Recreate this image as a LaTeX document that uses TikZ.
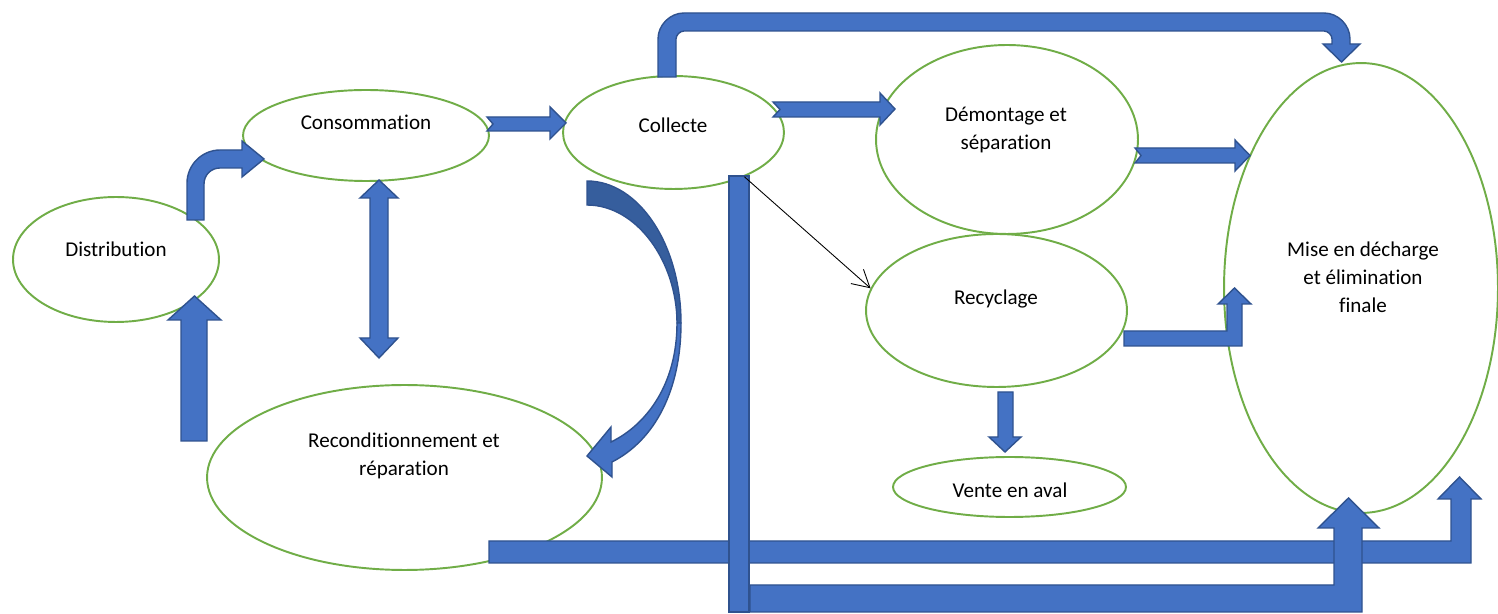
\documentclass[tikz,border=0pt]{standalone}
\usepackage{fontspec}
\setmainfont{Carlito}[Ligatures=NoCommon]
\usetikzlibrary{shapes.geometric,arrows.meta}
\definecolor{vertbord}{HTML}{70AD47}
\definecolor{bleufond}{HTML}{4472C4}
\definecolor{bleutrait}{HTML}{2F528F}
\definecolor{bleusombre}{HTML}{365E9D}
\begin{document}
\begin{tikzpicture}[x=0.02cm,y=-0.02cm,
        etape/.style={draw=vertbord, line width=1.1pt, ellipse, fill=white, inner sep=0pt},
        texte/.style={font=\fontsize{12}{16.2}\selectfont, align=center, anchor=base, inner sep=0pt},
        fleche/.style={draw=bleutrait, fill=bleufond, line width=0.8pt, line join=miter}]
        \useasboundingbox (0,0) rectangle (1498,614);
        \node[etape, minimum width=4.12cm, minimum height=2.5cm] (distr) at (116,259.5) {};
        \node[etape, minimum width=4.92cm, minimum height=1.82cm] (conso) at (366,135.5) {};
        \node[etape, minimum width=4.42cm, minimum height=2.26cm] (coll) at (673.5,132.5) {};
        \node[etape, minimum width=5.24cm, minimum height=3.78cm] (demont) at (1007,139.5) {};
        \node[etape, minimum width=5.22cm, minimum height=3.06cm] (recyc) at (996.5,310.5) {};
        \node[etape, minimum width=4.66cm, minimum height=1.2cm] (vente) at (1009.5,487) {};
        \node[etape, minimum width=7.9cm, minimum height=3.7cm] (recond) at (404.5,477.5) {};
        \node[etape, minimum width=5.48cm, minimum height=9cm] (mise) at (1361,288) {};
        \node[texte] (distr-t) at (116,257) {Distribution};
        \node[texte] (conso-t) at (366,130) {Consommation};
        \node[texte] (coll-t) at (673,133) {Collecte};
        \node[texte] (demont-t) at (1006,150) {Démontage et\\séparation};
        \node[texte] (recyc-t) at (996,305) {Recyclage};
        \node[texte] (vente-t) at (1010,498) {Vente en aval};
        \node[texte] (recond-t) at (404,476) {Reconditionnement et\\réparation};
        \node[texte] (mise-t) at (1363,313) {Mise en décharge\\et élimination\\finale};
        \draw[fleche] (187,220) -- (187,183) .. controls (187,165) and (202,150) .. (220,150) -- (242,150) -- (242,141) -- (264,159) -- (242,177) -- (242,168) -- (220,168) .. controls (211,168) and (204,175) .. (204,184) -- (204,220) -- cycle;
        \draw[fleche] (181,441) -- (181,320) -- (168,320) -- (194.5,296) -- (221,320) -- (207,320) -- (207,441) -- cycle;
        \draw[fleche] (370,198) -- (360,198) -- (379,180) -- (398,198) -- (388,198) -- (388,338) -- (398,338) -- (379,358) -- (360,338) -- (370,338) -- cycle;
        \draw[fleche] (487,117) -- (550,117) -- (550,107) -- (566,123) -- (550,139) -- (550,131) -- (487,131) -- (493,124) -- cycle;
        \draw[fleche] (773,102) -- (880,102) -- (880,93) -- (895,109) -- (880,125) -- (880,117) -- (773,117) -- (780,109.5) -- cycle;
        \draw[fleche] (1135,148) -- (1235,148) -- (1235,140) -- (1250,155.5) -- (1235,171) -- (1235,163) -- (1135,163) -- (1141,155.5) -- cycle;
        \draw[fleche] (658,77) -- (658,39) .. controls (658,25) and (670,13) .. (684,13) -- (1324,13) .. controls (1338,13) and (1350,25) .. (1350,39) -- (1350,44) -- (1360,44) -- (1341.5,62) -- (1323,44) -- (1332,44) -- (1332,39) .. controls (1332,35) and (1328,31) .. (1324,31) -- (684,31) .. controls (680,31) and (676,35) .. (676,39) -- (676,77) -- cycle;
        \draw[fleche, fill=bleusombre] (587,181) .. controls (639,181) and (681,245) .. (681,323) -- (677,323) .. controls (677,262) and (637,205) .. (587,205) -- cycle;
        \draw[fleche] (681,323) .. controls (681,390) and (655,440) .. (612,462) -- (612,477) -- (587,456) -- (611,427) -- (611,442) .. controls (646,425) and (677,385) .. (677,323) -- cycle;
        \draw[fleche] (1124,331) -- (1227,331) -- (1227,304) -- (1218,304) -- (1234.5,288) -- (1251,304) -- (1242,304) -- (1242,346) -- (1124,346) -- cycle;
        \draw[fleche] (998,392) -- (1013,392) -- (1013,437) -- (1021,437) -- (1005,452) -- (989,437) -- (998,437) -- cycle;
        \draw[fleche] (489,541) -- (1451,541) -- (1451,499) -- (1438,499) -- (1459.5,477) -- (1481,499) -- (1471,499) -- (1471,563) -- (489,563) -- cycle;
        \draw[fleche] (729,176) rectangle (749,612);
        \draw[fleche] (750,585) -- (1334,585) -- (1334,528) -- (1318,528) -- (1348.5,498) -- (1379,528) -- (1362,528) -- (1362,612) -- (750,612) -- cycle;
        \draw[-{Straight Barb[length=0.34cm,width=0.38cm]}, line width=0.5pt] (coll.-32) -- (recyc.170);
\end{tikzpicture}
\end{document}
